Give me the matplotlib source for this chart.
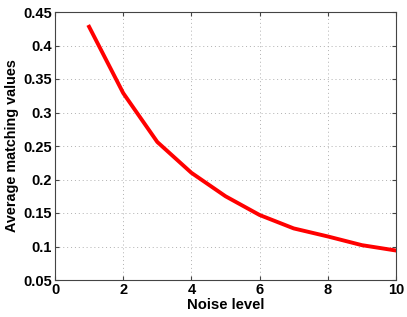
import numpy as np
import matplotlib.pyplot as plt

noise = [1, 2, 3, 4, 5, 6, 7, 8, 9, 10]
matching = [0.428, 0.329, 0.256, 0.210, 0.175, 0.147, 0.127, 0.115, 0.102, 0.094]
xticks = [0, 2, 4, 6, 8, 10]
yticks = [0.05, 0.1, 0.15, 0.2, 0.25, 0.3, 0.35, 0.4, 0.45]
yticklabels = ['0.05', '0.1', '0.15', '0.2', '0.25', '0.3', '0.35', '0.4', '0.45']

plt.rcParams['font.family'] = 'Liberation Sans'
plt.rcParams['font.weight'] = 'bold'

fig = plt.figure(figsize=(4.07, 3.17), dpi=100)
ax = fig.add_axes([55/407, 1-280/317, (396-55)/407, (280-12)/317])
ax.plot(noise, matching, color='#ff0000', linewidth=2.8)
ax.set_xlim(0, 10)
ax.set_ylim(0.05, 0.45)
ax.set_xticks(xticks)
ax.set_yticks(yticks)
ax.set_yticklabels(yticklabels)
ax.grid(True, linestyle=(0, (1, 3)), color='#b0b0b0', linewidth=0.7)
ax.tick_params(direction='in', top=True, right=True, labelsize=10.5, length=3, pad=2, color='#444444')
for s in ax.spines.values():
    s.set_color('#444444')
ax.set_xlabel('Noise level', fontsize=10.7, fontweight='bold', labelpad=1)
ax.set_ylabel('Average matching values', fontsize=10.4, fontweight='bold', labelpad=3)
fig.savefig('out.png', dpi=100)
